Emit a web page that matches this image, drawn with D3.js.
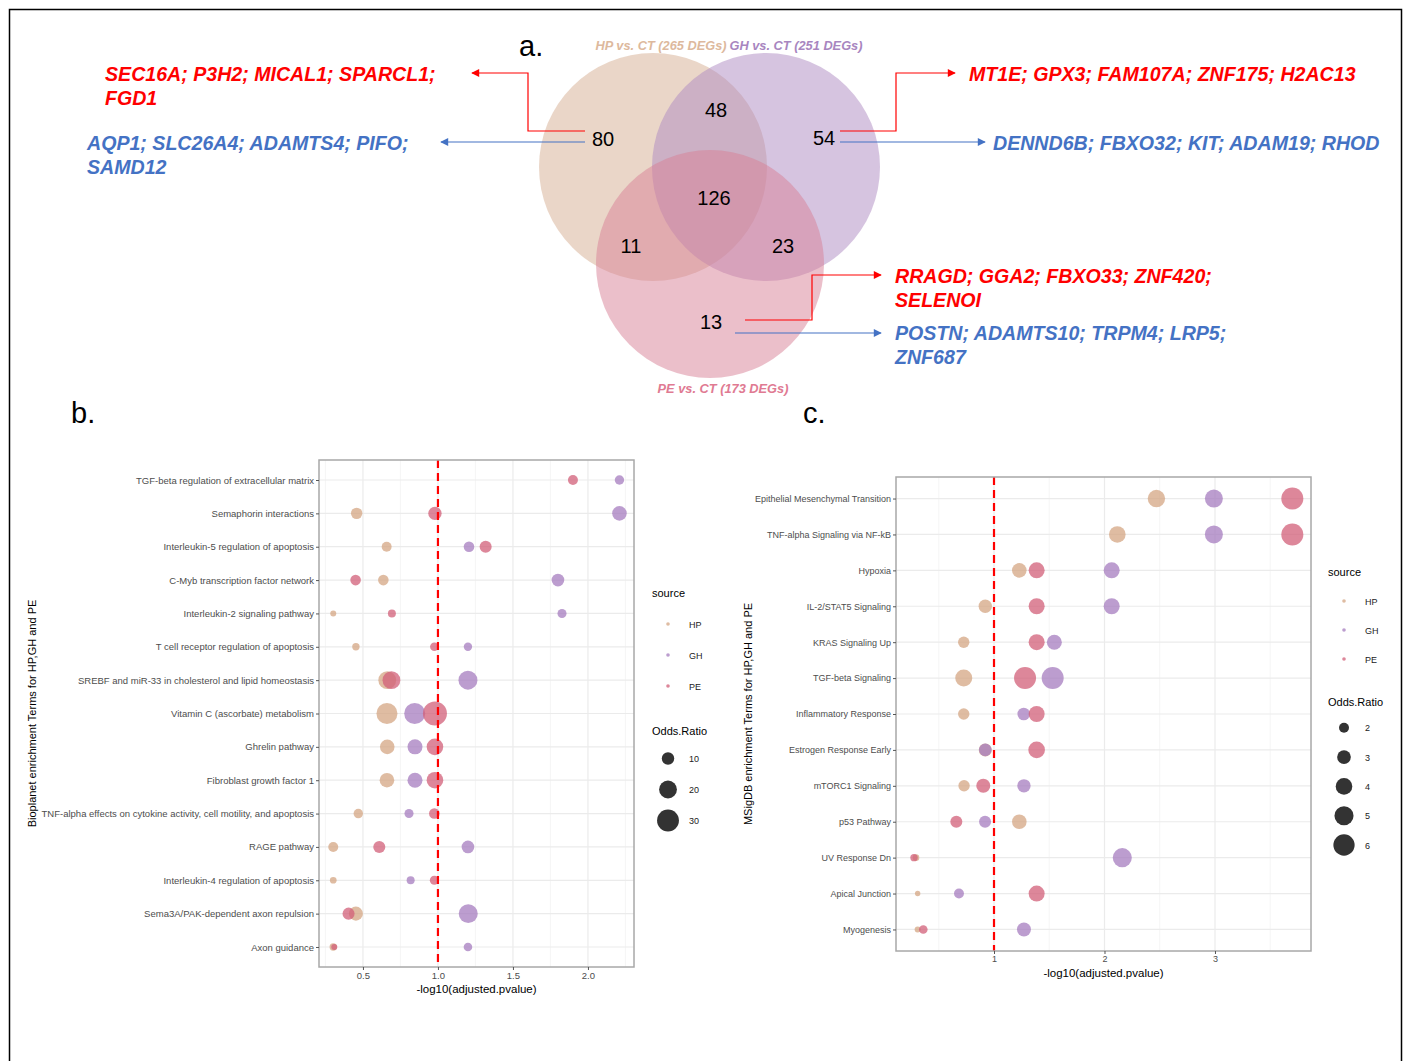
<!DOCTYPE html>
<html>
<head>
<meta charset="utf-8">
<script src="https://cdn.jsdelivr.net/npm/d3@7"></script>
<style>
  body { margin: 0; background: #fff; }
  svg { font-family: "Liberation Sans", Arial, sans-serif; }
</style>
</head>
<body>
<svg width="1406" height="1061"></svg>
<script>
var svg = d3.select('svg');

// ---------------- data ----------------
var sources = ['HP', 'GH', 'PE'];
var fillColors = ['#d4a583', '#a57cbf', '#d15f78'];

// venn (a)
var vennSets = ['HP vs. CT (265 DEGs)', 'GH vs. CT (251 DEGs)', 'PE vs. CT (173 DEGs)'];
var vennCounts = [80, 48, 54, 126, 11, 23, 13];
var genesHPup = ['SEC16A; P3H2; MICAL1; SPARCL1;', 'FGD1'];
var genesHPdown = ['AQP1; SLC26A4; ADAMTS4; PIFO;', 'SAMD12'];
var genesGHup = ['MT1E; GPX3; FAM107A; ZNF175; H2AC13'];
var genesGHdown = ['DENND6B; FBXO32; KIT; ADAM19; RHOD'];
var genesPEup = ['RRAGD; GGA2; FBXO33; ZNF420;', 'SELENOI'];
var genesPEdown = ['POSTN; ADAMTS10; TRPM4; LRP5;', 'ZNF687'];

// bioplanet (b)
var termsB = ['TGF-beta regulation of extracellular matrix', 'Semaphorin interactions',
  'Interleukin-5 regulation of apoptosis', 'C-Myb transcription factor network',
  'Interleukin-2 signaling pathway', 'T cell receptor regulation of apoptosis',
  'SREBF and miR-33 in cholesterol and lipid homeostasis', 'Vitamin C (ascorbate) metabolism',
  'Ghrelin pathway', 'Fibroblast growth factor 1',
  'TNF-alpha effects on cytokine activity, cell motility, and apoptosis', 'RAGE pathway',
  'Interleukin-4 regulation of apoptosis', 'Sema3A/PAK-dependent axon repulsion', 'Axon guidance'];
var hpPvalB = [null, 0.458, 0.658, 0.636, 0.302, 0.453, 0.662, 0.66, 0.662, 0.66, 0.469, 0.302, 0.302, 0.453, 0.302];
var ghPvalB = [2.21, 2.21, 1.207, 1.80, 1.827, 1.20, 1.20, 0.845, 0.847, 0.847, 0.807, 1.20, 0.818, 1.202, 1.20];
var pePvalB = [1.90, 0.98, 1.318, 0.451, 0.693, 0.976, 0.69, 0.98, 0.98, 0.98, 0.976, 0.609, 0.976, 0.404, 0.309];
var hpOrB = [null, 8.5, 6.6, 7.4, 2.7, 3.8, 20, 27.7, 13.6, 13.6, 5.9, 6.6, 3.2, 12.6, 3.8];
var ghOrB = [5.9, 13.6, 7.4, 10.3, 5.5, 4.8, 22.7, 27.7, 14.3, 14.3, 5.5, 10.3, 4.4, 22.7, 5];
var peOrB = [6.6, 11.5, 9.4, 7.4, 4.4, 5, 20, 36, 17.5, 17.5, 7.4, 9.4, 5.5, 9.4, 2.7];
var ticksB = [0.5, 1.0, 1.5, 2.0];
var sizeLegendB = [10, 20, 30];

// msigdb (c)
var termsC = ['Epithelial Mesenchymal Transition', 'TNF-alpha Signaling via NF-kB', 'Hypoxia',
  'IL-2/STAT5 Signaling', 'KRAS Signaling Up', 'TGF-beta Signaling', 'Inflammatory Response',
  'Estrogen Response Early', 'mTORC1 Signaling', 'p53 Pathway', 'UV Response Dn',
  'Apical Junction', 'Myogenesis'];
var hpPvalC = [2.47, 2.116, 1.229, 0.921, 0.726, 0.726, 0.726, 0.921, 0.729, 1.229, 0.294, 0.309, 0.309];
var ghPvalC = [2.99, 2.99, 2.065, 2.065, 1.546, 1.531, 1.269, 0.921, 1.271, 0.919, 2.161, 0.683, 1.271];
var pePvalC = [3.70, 3.70, 1.386, 1.386, 1.386, 1.281, 1.386, 1.386, 0.903, 0.659, 0.276, 1.386, 0.36];
var hpOrC = [4.3, 4.0, 3.29, 2.9, 2.34, 4.15, 2.34, 2.8, 2.34, 3.29, 1.36, 1.2, 1.28];
var ghOrC = [4.54, 4.54, 3.77, 3.77, 3.42, 6.36, 2.67, 2.67, 2.9, 2.5, 5.0, 1.99, 3.09];
var peOrC = [6.36, 6.36, 3.77, 3.77, 3.77, 6.36, 3.77, 4.0, 3.09, 2.5, 1.49, 3.77, 1.71];
var ticksC = [1, 2, 3];
var sizeLegendC = [2, 3, 4, 5, 6];

// ---------------- frame ----------------
svg.append('rect').attr('x', 9.5).attr('y', 9.5).attr('width', 1392).attr('height', 1070)
  .attr('fill', 'none').attr('stroke', '#000').attr('stroke-width', 1.5);

// ---------------- panel a: venn ----------------
var vennG = svg.append('g');
var vennCircles = [{cx: 653, cy: 167}, {cx: 766, cy: 167}, {cx: 710, cy: 264}];
var vennFill = ['#d6ae92', '#ad8ac2', '#d88096'];
vennG.selectAll('circle.venn').data(vennCircles).enter().append('circle')
  .attr('class', 'venn')
  .attr('cx', function(d) { return d.cx; })
  .attr('cy', function(d) { return d.cy; })
  .attr('r', 114)
  .attr('fill', function(d, i) { return vennFill[i]; })
  .attr('fill-opacity', 0.5);

var vennLabelPos = [{x: 661, y: 50, c: '#ddb99d'}, {x: 796, y: 50, c: '#a886c0'}, {x: 723, y: 393, c: '#e07a92'}];
vennG.selectAll('text.setlab').data(vennSets).enter().append('text')
  .attr('class', 'setlab')
  .attr('x', function(d, i) { return vennLabelPos[i].x; })
  .attr('y', function(d, i) { return vennLabelPos[i].y; })
  .attr('text-anchor', 'middle')
  .attr('font-size', 12.8).attr('font-weight', 'bold').attr('font-style', 'italic')
  .attr('fill', function(d, i) { return vennLabelPos[i].c; })
  .text(function(d) { return d; });

var countPos = [[603, 139], [716, 110], [824, 138], [714, 198], [631, 246], [783, 246], [711, 322]];
vennG.selectAll('text.count').data(vennCounts).enter().append('text')
  .attr('class', 'count')
  .attr('x', function(d, i) { return countPos[i][0]; })
  .attr('y', function(d, i) { return countPos[i][1] + 7; })
  .attr('text-anchor', 'middle')
  .attr('font-size', 20)
  .text(function(d) { return d; });

svg.append('text').attr('x', 519).attr('y', 56).attr('font-size', 29).text('a.');

// arrows
var defs = svg.append('defs');
[['arrRed', '#ff0000'], ['arrBlue', '#4472c4']].forEach(function(m) {
  defs.append('marker').attr('id', m[0]).attr('viewBox', '0 0 10 10')
    .attr('refX', 9).attr('refY', 5).attr('markerWidth', 10).attr('markerHeight', 8)
    .attr('markerUnits', 'userSpaceOnUse').attr('orient', 'auto')
    .append('path').attr('d', 'M0,0L10,5L0,10Z').attr('fill', m[1]);
});
var arrows = [
  {pts: [[585, 131], [528, 131], [528, 73], [472, 73]], c: '#ff0000', m: 'arrRed'},
  {pts: [[585, 142], [441, 142]], c: '#4472c4', m: 'arrBlue'},
  {pts: [[840, 131], [896, 131], [896, 73], [955, 73]], c: '#ff0000', m: 'arrRed'},
  {pts: [[840, 142], [985, 142]], c: '#4472c4', m: 'arrBlue'},
  {pts: [[745, 320], [812, 320], [812, 275], [881, 275]], c: '#ff0000', m: 'arrRed'},
  {pts: [[735, 333], [881, 333]], c: '#4472c4', m: 'arrBlue'}
];
svg.selectAll('path.arrow').data(arrows).enter().append('path')
  .attr('class', 'arrow')
  .attr('d', function(d) { return d3.line()(d.pts); })
  .attr('fill', 'none')
  .attr('stroke', function(d) { return d.c; })
  .attr('stroke-width', 1.2)
  .attr('marker-end', function(d) { return 'url(#' + d.m + ')'; });

function geneText(lines, x, y, color) {
  svg.append('g').selectAll('text').data(lines).enter().append('text')
    .attr('x', x).attr('y', function(d, i) { return y + i * 24; })
    .attr('font-size', 19.6).attr('font-weight', 'bold').attr('font-style', 'italic')
    .attr('fill', color)
    .text(function(d) { return d; });
}
geneText(genesHPup, 105, 81, '#ff0000');
geneText(genesHPdown, 87, 150, '#4472c4');
geneText(genesGHup, 969, 81, '#ff0000');
geneText(genesGHdown, 993, 150, '#4472c4');
geneText(genesPEup, 895, 283, '#ff0000');
geneText(genesPEdown, 895, 340, '#4472c4');

svg.append('text').attr('x', 71).attr('y', 423).attr('font-size', 29).text('b.');
svg.append('text').attr('x', 803).attr('y', 423).attr('font-size', 29).text('c.');

// ---------------- dot plots ----------------
function dotPlot(opt) {
  var g = svg.append('g');
  var x = d3.scaleLinear().domain(opt.xDomain).range([opt.left, opt.right]);
  var y = d3.scalePoint().domain(opt.terms).range([opt.top, opt.bottom]).padding(0.6);
  var r = d3.scaleRadial().domain(opt.orDomain).range(opt.rRange);

  // grid
  var step = opt.ticks[1] - opt.ticks[0];
  var minor = opt.ticks.map(function(t) { return t - step / 2; });
  minor.push(opt.ticks[opt.ticks.length - 1] + step / 2);
  minor = minor.filter(function(v) { return v > opt.xDomain[0] && v < opt.xDomain[1]; });
  g.selectAll('line.minor').data(minor).enter().append('line')
    .attr('x1', function(d) { return x(d); }).attr('x2', function(d) { return x(d); })
    .attr('y1', opt.top).attr('y2', opt.bottom)
    .attr('stroke', '#f0f0f0').attr('stroke-width', 0.7);
  g.selectAll('line.vmajor').data(opt.ticks).enter().append('line')
    .attr('x1', function(d) { return x(d); }).attr('x2', function(d) { return x(d); })
    .attr('y1', opt.top).attr('y2', opt.bottom)
    .attr('stroke', '#ebebeb').attr('stroke-width', 1.2);
  g.selectAll('line.hmajor').data(opt.terms).enter().append('line')
    .attr('x1', opt.left).attr('x2', opt.right)
    .attr('y1', function(d) { return y(d); }).attr('y2', function(d) { return y(d); })
    .attr('stroke', '#ebebeb').attr('stroke-width', 1.2);

  // points
  var pts = [];
  opt.pvals.forEach(function(arr, s) {
    arr.forEach(function(v, i) {
      if (v == null) return;
      pts.push({term: opt.terms[i], x: v, or: opt.ors[s][i], s: s});
    });
  });
  g.selectAll('circle.pt').data(pts).enter().append('circle')
    .attr('class', 'pt')
    .attr('cx', function(d) { return x(d.x); })
    .attr('cy', function(d) { return y(d.term); })
    .attr('r', function(d) { return r(d.or); })
    .attr('fill', function(d) { return fillColors[d.s]; })
    .attr('fill-opacity', 0.75);

  // threshold line
  g.append('line').attr('x1', x(1)).attr('x2', x(1))
    .attr('y1', opt.top).attr('y2', opt.bottom)
    .attr('stroke', '#ff0000').attr('stroke-width', 2.2)
    .attr('stroke-dasharray', '8,5');

  g.append('rect').attr('x', opt.left).attr('y', opt.top)
    .attr('width', opt.right - opt.left).attr('height', opt.bottom - opt.top)
    .attr('fill', 'none').attr('stroke', '#a8a8a8').attr('stroke-width', 1.5);

  // axes
  var yAxis = g.append('g').attr('transform', 'translate(' + opt.left + ',0)')
    .call(d3.axisLeft(y).tickSize(3).tickPadding(2));
  var xAxis = g.append('g').attr('transform', 'translate(0,' + opt.bottom + ')')
    .call(d3.axisBottom(x).tickValues(opt.ticks).tickFormat(opt.fmt).tickSize(3).tickPadding(2));
  [yAxis, xAxis].forEach(function(a) {
    a.select('.domain').remove();
    a.selectAll('line').attr('stroke', '#555');
    a.selectAll('text').attr('fill', '#4d4d4d').attr('font-size', opt.tickFont)
      .attr('font-family', '"Liberation Sans", Arial, sans-serif');
  });

  // titles
  svg.append('text').attr('x', (opt.left + opt.right) / 2).attr('y', opt.bottom + 26)
    .attr('text-anchor', 'middle').attr('font-size', 11.5).text('-log10(adjusted.pvalue)');
  svg.append('text')
    .attr('transform', 'translate(' + opt.yTitleX + ',' + (opt.top + opt.bottom) / 2 + ') rotate(-90)')
    .attr('text-anchor', 'middle').attr('font-size', 11).text(opt.yTitle);

  // legend
  var lg = svg.append('g').attr('transform', 'translate(' + opt.legX + ',' + opt.legY + ')');
  lg.append('text').attr('x', 0).attr('y', 4).attr('font-size', 11).text('source');
  lg.selectAll('g.key').data(sources).enter().append('g')
    .attr('transform', function(d, i) { return 'translate(0,' + (opt.keyStep0 * (i + 1)) + ')'; })
    .each(function(d, i) {
      d3.select(this).append('circle').attr('cx', 16).attr('cy', 0).attr('r', 1.8)
        .attr('fill', fillColors[i]).attr('fill-opacity', 0.75);
      d3.select(this).append('text').attr('x', 37).attr('y', 3.5).attr('font-size', 9)
        .attr('fill', '#222').text(d);
    });
  var sy = opt.sizeTitleY;
  lg.append('text').attr('x', 0).attr('y', sy).attr('font-size', 11).text('Odds.Ratio');
  lg.selectAll('g.size').data(opt.sizeLegend).enter().append('g')
    .attr('transform', function(d, i) { return 'translate(0,' + (sy + opt.sizeStep * (i + 1) - 7.5) + ')'; })
    .each(function(d) {
      d3.select(this).append('circle').attr('cx', 16).attr('cy', 0).attr('r', r(d))
        .attr('fill', '#333');
      d3.select(this).append('text').attr('x', 37).attr('y', 3.5).attr('font-size', 9)
        .attr('fill', '#222').text(d);
    });
}

dotPlot({
  terms: termsB, pvals: [hpPvalB, ghPvalB, pePvalB], ors: [hpOrB, ghOrB, peOrB],
  xDomain: [0.207, 2.307], left: 319, right: 634, top: 460, bottom: 967,
  orDomain: [2, 36], rRange: [2.5, 12], ticks: ticksB, fmt: d3.format('.1f'), tickFont: 9.5,
  yTitle: 'Bioplanet enrichment Terms for HP,GH and PE', yTitleX: 36,
  legX: 652, legY: 593, keyStep0: 31, sizeTitleY: 142, sizeStep: 31, sizeLegend: sizeLegendB
});

dotPlot({
  terms: termsC, pvals: [hpPvalC, ghPvalC, pePvalC], ors: [hpOrC, ghOrC, peOrC],
  xDomain: [0.113, 3.869], left: 896, right: 1311, top: 477, bottom: 951,
  orDomain: [1.2, 7.4], rRange: [2.7, 12], ticks: ticksC, fmt: d3.format('d'), tickFont: 9,
  yTitle: 'MSigDB enrichment Terms for HP,GH and PE', yTitleX: 752,
  legX: 1328, legY: 572, keyStep0: 29, sizeTitleY: 134, sizeStep: 29.3, sizeLegend: sizeLegendC
});
</script>
</body>
</html>
